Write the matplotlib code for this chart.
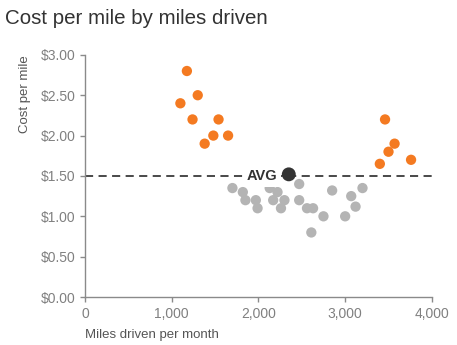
import numpy as np
import matplotlib
matplotlib.use("Agg")
import matplotlib.pyplot as plt
from matplotlib.ticker import FuncFormatter

plt.rcParams["font.family"] = ["Liberation Sans", "DejaVu Sans"]

# high cost per mile (orange) and typical drivers (gray)
high_miles = [1175, 1300, 1100, 1240, 1540, 1480, 1650, 1380,
              3460, 3570, 3500, 3400, 3760]
high_cost = [2.80, 2.50, 2.40, 2.20, 2.20, 2.00, 2.00, 1.90,
             2.20, 1.90, 1.80, 1.65, 1.70]

low_miles = [1700, 1820, 1850, 1970, 1990, 2130, 2220, 2170, 2300, 2260,
             2470, 2470, 2560, 2630, 2750, 2850, 3070, 3200, 3120, 3000, 2610]
low_cost = [1.35, 1.30, 1.20, 1.20, 1.10, 1.35, 1.30, 1.20, 1.20, 1.10,
            1.40, 1.20, 1.10, 1.10, 1.00, 1.32, 1.25, 1.35, 1.12, 1.00, 0.80]

avg_miles = 2350
avg_cost = 1.52
avg_line = 1.50

fig = plt.figure(figsize=(4.57, 3.45), dpi=100)
ax = fig.add_axes([0.186, 0.139, 0.759, 0.702])

ax.axhline(avg_line, color="#3a3a3a", lw=1.3, ls=(0, (4.5, 3)), zorder=1)
ax.scatter(low_miles, low_cost, s=55, color="#b4b4b4", edgecolor="none", zorder=2)
ax.scatter(high_miles, high_cost, s=55, color="#f47a21", edgecolor="none", zorder=2)
ax.scatter([avg_miles], [avg_cost], s=100, color="#333333", edgecolor="none", zorder=4)
ax.annotate("AVG", (avg_miles, avg_line), xytext=(-8, 0), textcoords="offset points",
            ha="right", va="center", fontsize=10.5, fontweight="bold", color="#333333",
            bbox=dict(boxstyle="square,pad=0.25", fc="white", ec="none"), zorder=3)

ax.set_xlim(0, 4000)
ax.set_ylim(0, 3.0)
ax.set_xticks([0, 1000, 2000, 3000, 4000])
ax.set_yticks(np.arange(0, 3.01, 0.5))
ax.xaxis.set_major_formatter(FuncFormatter(lambda v, p: f"{v:,.0f}"))
ax.yaxis.set_major_formatter(FuncFormatter(lambda v, p: f"${v:.2f}"))

for side in ["top", "right"]:
    ax.spines[side].set_visible(False)
for side in ["left", "bottom"]:
    ax.spines[side].set_color("#8a8a8a")
    ax.spines[side].set_linewidth(1.0)
ax.tick_params(colors="#8a8a8a", labelcolor="#808080", labelsize=10, length=3.5, width=1.0)
ax.tick_params(axis="x", pad=4)
ax.yaxis.get_major_ticks()[3].tick1line.set_color("#222222")

ax.set_ylabel("Cost per mile", fontsize=9.5, color="#555555")
ax.set_xlabel("Miles driven per month", fontsize=9.5, color="#555555")
ax.xaxis.set_label_coords(0.0, -0.13)
ax.xaxis.label.set_horizontalalignment("left")
ax.yaxis.set_label_coords(-0.172, 1.0)
ax.yaxis.label.set_verticalalignment("center")
ax.yaxis.label.set_horizontalalignment("right")

fig.text(0.011, 0.945, "Cost per mile by miles driven", fontsize=14.8, color="#333333",
         ha="left", va="center")

fig.savefig("out.png", dpi=100, facecolor="white")
